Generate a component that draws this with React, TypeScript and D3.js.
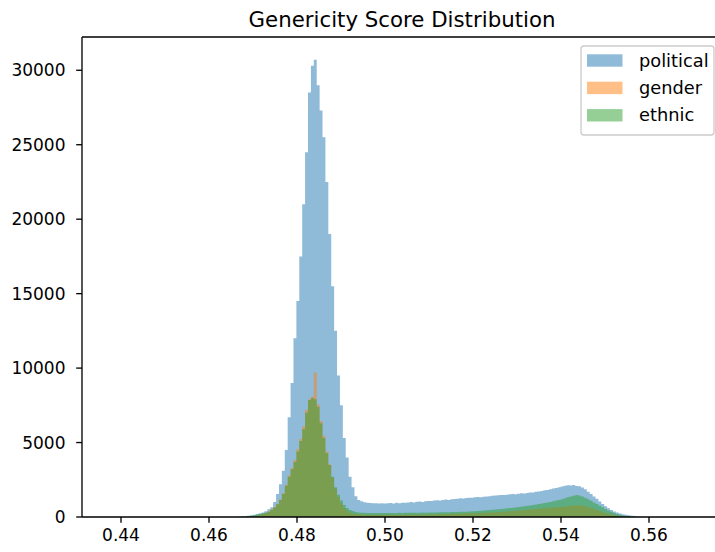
import React from "react";
import * as d3 from "d3";

const TITLE = "Genericity Score Distribution";
const BIN_START = 0.466;
const BIN_WIDTH = 0.00066;
const SERIES_NAMES = ["political", "gender", "ethnic"];
const SERIES_COLORS = ["#1f77b4", "#ff7f0e", "#2ca02c"];
const X_TICKS = [0.44, 0.46, 0.48, 0.5, 0.52, 0.54, 0.56];
const Y_TICKS = [0, 5000, 10000, 15000, 20000, 25000, 30000];

const political = [
  10, 20, 35, 55, 80, 110, 150, 200, 250, 310,
  390, 520, 650, 1000, 1550, 2200, 3100, 4500, 6700, 9000,
  12000, 14500, 17500, 21000, 24500, 28500, 30300, 30700, 29000, 27300,
  25500, 22500, 19000, 15500, 12500, 9500, 7500, 5300, 4000, 2700,
  2000, 1400, 1150, 1050, 990, 960, 940, 930, 920, 910,
  930, 900, 920, 940, 910, 950, 930, 960, 950, 980,
  1000, 980, 1020, 1040, 1010, 1060, 1080, 1070, 1100, 1120,
  1110, 1150, 1170, 1150, 1190, 1210, 1230, 1260, 1240, 1280,
  1300, 1290, 1320, 1340, 1330, 1360, 1380, 1400, 1420, 1440,
  1460, 1480, 1470, 1500, 1520, 1540, 1530, 1560, 1590, 1580,
  1620, 1650, 1640, 1690, 1720, 1750, 1790, 1820, 1870, 1910,
  1950, 1990, 2040, 2100, 2140, 2120, 2150, 2090, 2060, 1980,
  1860, 1700, 1550, 1380, 1220, 1040, 880, 730, 590, 470,
  370, 300, 240, 190, 150, 110, 80, 50, 25, 10,
];

const gender = [
  5, 8, 13, 20, 30, 45, 65, 95, 135, 200,
  270, 370, 500, 670, 890, 1200, 1600, 2170, 2780, 3300,
  3820, 4550, 5250, 6100, 7200, 7900, 8100, 9700, 7550, 6450,
  5450, 4400, 3550, 2650, 1900, 1350, 900, 600, 420, 300,
  240, 200, 180, 165, 155, 150, 148, 145, 150, 145,
  148, 150, 152, 150, 155, 153, 158, 155, 160, 158,
  162, 165, 163, 168, 172, 170, 175, 180, 178, 185,
  190, 195, 200, 205, 210, 215, 222, 230, 238, 245,
  250, 255, 260, 265, 272, 280, 288, 296, 305, 315,
  325, 338, 350, 365, 380, 395, 412, 430, 450, 470,
  490, 505, 520, 535, 550, 565, 582, 600, 615, 632,
  650, 668, 690, 710, 730, 750, 770, 790, 780, 760,
  720, 670, 610, 540, 470, 400, 330, 270, 210, 160,
  120, 90, 65, 45, 30, 20, 12, 6, 3, 1,
];

const ethnic = [
  5, 8, 12, 18, 28, 90, 120, 160, 200, 250,
  300, 350, 480, 640, 850, 1150, 1550, 2100, 2700, 3200,
  3700, 4400, 5100, 5900, 7000, 7850, 8000, 7900, 7400, 6300,
  5300, 4300, 3500, 2700, 2000, 1500, 1100, 800, 600, 470,
  400, 340, 310, 290, 280, 275, 270, 265, 270, 262,
  268, 265, 272, 268, 275, 272, 278, 275, 282, 280,
  285, 288, 285, 292, 295, 292, 298, 302, 300, 308,
  312, 315, 320, 325, 330, 335, 340, 345, 352, 360,
  370, 380, 392, 405, 418, 432, 448, 465, 482, 500,
  520, 540, 560, 580, 600, 620, 645, 670, 695, 720,
  750, 780, 810, 840, 870, 900, 935, 970, 1010, 1050,
  1100, 1150, 1200, 1260, 1320, 1380, 1430, 1470, 1440, 1380,
  1300, 1200, 1090, 980, 870, 760, 650, 540, 440, 350,
  270, 200, 145, 100, 70, 45, 28, 15, 8, 3,
];

const SERIES = [political, gender, ethnic];

const W = 715;
const H = 552;
const M = { left: 82, top: 37, right: 722, bottom: 517 };
const FONT = "DejaVu Sans, sans-serif";

export default function App() {
  const x = d3.scaleLinear().domain([0.431136, 0.576591]).range([M.left, M.right]);
  const yMax = 30700 * 1.05;
  const y = d3.scaleLinear().domain([0, yMax]).range([M.bottom, M.top]);

  const makePath = (vals: number[]) => {
    const pts = vals.map((v, i) => ({ e: BIN_START + i * BIN_WIDTH, v }));
    pts.push({ e: BIN_START + vals.length * BIN_WIDTH, v: 0 });
    const area = d3
      .area<{ e: number; v: number }>()
      .x((d) => x(d.e))
      .y0(y(0))
      .y1((d) => y(d.v))
      .curve(d3.curveStepAfter);
    return area(pts) || "";
  };

  const tickLen = 5.8;
  const fs = 17;

  const legX = 581;
  const legY = 46;
  const rowH = 27.4;

  return (
    <svg
      width={W}
      height={H}
      style={{ position: "absolute", left: 0, top: 0, background: "#fff" }}
      fontFamily={FONT}
    >
      <rect x={0} y={0} width={W} height={H} fill="#fff" />
      {SERIES.map((s, k) => (
        <path key={k} d={makePath(s)} fill={SERIES_COLORS[k]} fillOpacity={0.5} />
      ))}
      {/* spines */}
      <line x1={M.left} y1={M.top} x2={M.left} y2={M.bottom} stroke="#000" strokeWidth={1.33} />
      <line x1={M.left} y1={M.bottom} x2={M.right} y2={M.bottom} stroke="#000" strokeWidth={1.33} />
      <line x1={M.left} y1={M.top} x2={M.right} y2={M.top} stroke="#000" strokeWidth={1.33} />
      <line x1={M.right} y1={M.top} x2={M.right} y2={M.bottom} stroke="#000" strokeWidth={1.33} />
      {/* x ticks */}
      {X_TICKS.map((t) => (
        <g key={t}>
          <line x1={x(t)} x2={x(t)} y1={M.bottom} y2={M.bottom + tickLen} stroke="#000" strokeWidth={1.33} />
          <text x={x(t)} y={M.bottom + 24} textAnchor="middle" fontSize={fs} fill="#000">
            {t.toFixed(2)}
          </text>
        </g>
      ))}
      {/* y ticks */}
      {Y_TICKS.map((t) => (
        <g key={t}>
          <line x1={M.left - tickLen} x2={M.left} y1={y(t)} y2={y(t)} stroke="#000" strokeWidth={1.33} />
          <text x={M.left - 16.5} y={y(t) + 6} textAnchor="end" fontSize={fs} fill="#000">
            {t}
          </text>
        </g>
      ))}
      <text x={(M.left + M.right) / 2} y={27} textAnchor="middle" fontSize={21.3} fill="#000">
        {TITLE}
      </text>
      {/* legend */}
      <rect
        x={legX}
        y={legY}
        width={133}
        height={89}
        rx={3}
        fill="#fff"
        fillOpacity={0.8}
        stroke="#cccccc"
        strokeWidth={1.33}
      />
      {SERIES_NAMES.map((n, k) => (
        <g key={n}>
          <rect
            x={587}
            y={54.3 + k * rowH}
            width={35.5}
            height={12.4}
            fill={SERIES_COLORS[k]}
            fillOpacity={0.5}
          />
          <text x={639} y={66.5 + k * rowH} fontSize={17.8} fill="#000">
            {n}
          </text>
        </g>
      ))}
    </svg>
  );
}
